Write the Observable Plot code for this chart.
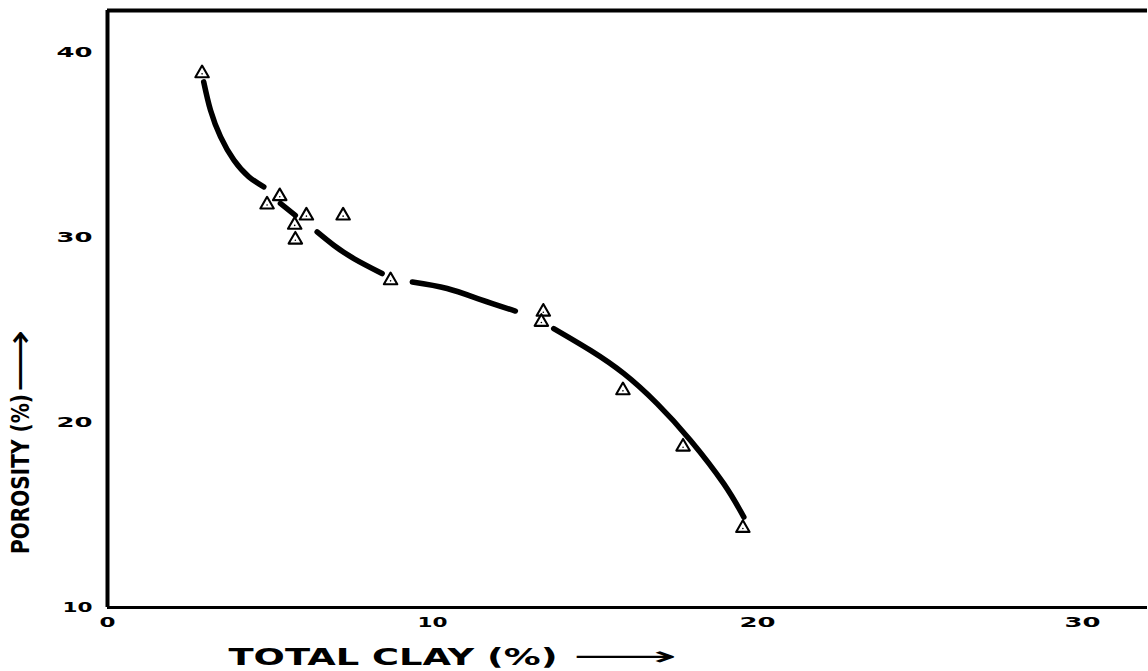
<!DOCTYPE html>
<html>
<head>
<meta charset="utf-8">
<script src="https://cdn.jsdelivr.net/npm/d3@7"></script>
<script src="https://cdn.jsdelivr.net/npm/@observablehq/plot@0.6"></script>
<style>
  html, body { margin: 0; padding: 0; background: #fff; }
</style>
</head>
<body>
<div id="chart"></div>
<script>
// Axis ticks
const xTicks = [0, 10, 20, 30];
const yTicks = [10, 20, 30, 40];
const xDomain = [0, 32];
const yDomain = [10, 42.3];

// Observed samples (triangles)
const clay     = [2.91, 4.91, 5.30, 5.76, 5.78, 6.12, 7.25, 8.71, 13.41, 13.35, 15.86, 17.71, 19.55];
const porosity = [38.9, 31.8, 32.25, 30.7, 29.9, 31.2, 31.2, 27.7, 26.0, 25.45, 21.75, 18.7, 14.3];

// Hand-drawn trend curve (broken into segments)
const curveClay     = [2.96, 3.17, 3.48, 3.89, 4.35, 4.81,  5.32, 5.78,  6.45, 6.96, 7.58, 8.45,  9.38, 10.45, 11.48, 12.55,  13.73, 14.86, 15.89, 16.91, 17.94, 18.96, 19.58];
const curvePorosity = [38.44, 36.9, 35.46, 34.2, 33.3, 32.76,  31.86, 31.22,  30.32, 29.60, 28.88, 28.07,  27.61, 27.26, 26.66, 26.04,  25.09, 23.91, 22.65, 21.03, 19.04, 16.70, 14.89];
const curveSegment  = [1, 1, 1, 1, 1, 1,  2, 2,  3, 3, 3, 3,  4, 4, 4, 4,  5, 5, 5, 5, 5, 5, 5];

const xLabel = "TOTAL CLAY (%)";
const yLabel = "POROSITY (%)";
const arrow = "⟶";

const points = clay.map((c, i) => ({clay: c, porosity: porosity[i]}));
const curve = curveClay.map((c, i) => ({clay: c, porosity: curvePorosity[i], seg: curveSegment[i]}));

const chart = Plot.plot({
  width: 1148,
  height: 671,
  marginLeft: 107,
  marginRight: 1,
  marginTop: 10,
  marginBottom: 64,
  x: {domain: xDomain, ticks: xTicks, tickSize: 0, tickPadding: 10, label: null},
  y: {domain: yDomain, ticks: yTicks, tickSize: 0, tickPadding: 15, label: null},
  style: {fontFamily: "DejaVu Sans", fontWeight: "bold", fontSize: "14px", color: "black", background: "white"},
  marks: [
    Plot.ruleX([xDomain[0]], {stroke: "black", strokeWidth: 4}),
    Plot.ruleY([yDomain[0]], {stroke: "black", strokeWidth: 3}),
    Plot.ruleY([yDomain[1]], {stroke: "black", strokeWidth: 4}),
    Plot.line(curve, {x: "clay", y: "porosity", z: "seg", curve: "natural", stroke: "black", strokeWidth: 5.5, strokeLinecap: "round"}),
    Plot.dot(points, {x: "clay", y: "porosity", symbol: "triangle", r: 5, stroke: "black", fill: "white", strokeWidth: 2.1, strokeLinejoin: "round"}),
    Plot.dot(points, {x: "clay", y: "porosity", r: 0.8, fill: "black", dy: 0.5}),
    Plot.text([xLabel], {frameAnchor: "bottom-left", textAnchor: "start", lineAnchor: "middle", dx: 121, dy: 50, fontSize: 23, fontWeight: "bold"}),
    Plot.text([arrow], {frameAnchor: "bottom-left", textAnchor: "start", lineAnchor: "middle", dx: 465, dy: 49, fontSize: 26, fontWeight: "normal"}),
    Plot.text([yLabel], {frameAnchor: "left", textAnchor: "middle", lineAnchor: "middle", rotate: -90, dx: -86, dy: 165, fontSize: 24, fontWeight: "bold"}),
    Plot.text([arrow], {frameAnchor: "left", textAnchor: "start", lineAnchor: "middle", rotate: -90, dx: -87, dy: 83, fontSize: 36, fontWeight: "normal"})
  ]
});

// Stretch glyphs to mimic the wide typeface of the original
d3.select(chart).selectAll("text").each(function() {
  const t = this.textContent;
  const rotated = (this.getAttribute("transform") || "").includes("rotate");
  let len = null;
  if (/^\d+$/.test(t)) len = t === "0" ? 16 : (t[0] === "1" ? 30 : 36);
  else if (t === xLabel) len = 329;
  else if (t === yLabel) len = 160;
  else if (t === arrow) len = rotated ? 62 : 105;
  if (len) d3.select(this).attr("textLength", len).attr("lengthAdjust", "spacingAndGlyphs");
});
document.getElementById("chart").appendChild(chart);
</script>
</body>
</html>
